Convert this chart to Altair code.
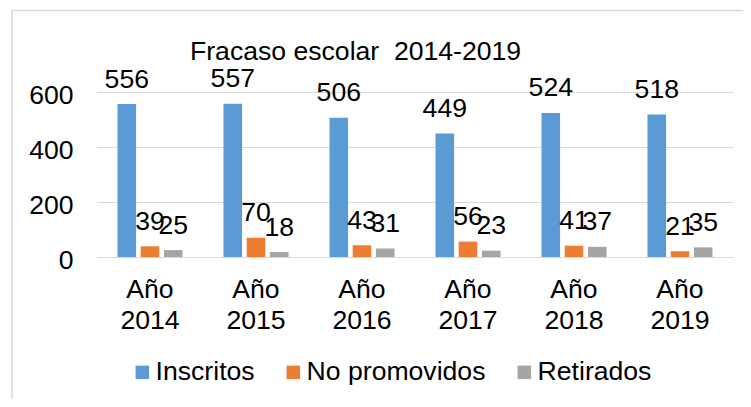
import altair as alt
import pandas as pd

years = ["2014", "2015", "2016", "2017", "2018", "2019"]
series = ["Inscritos", "No promovidos", "Retirados"]
inscritos = [556, 557, 506, 449, 524, 518]
no_promovidos = [39, 70, 43, 56, 41, 21]
retirados = [25, 18, 31, 23, 37, 35]
colors = ["#5B9BD5", "#ED7D31", "#A5A5A5"]
title_text = "Fracaso escolar\u00a0 2014-2019"
y_ticks = [0, 200, 400, 600]

rows = []
for i, yr in enumerate(years):
    for s, vals in zip(series, [inscritos, no_promovidos, retirados]):
        rows.append({"anio": f"Año {yr}", "serie": s, "valor": vals[i]})
df = pd.DataFrame(rows)
cats = [f"Año {yr}" for yr in years]

FONT = "Liberation Sans"
FS = 26.6
W, H = 636, 165

x_enc = alt.X(
    "anio:N", sort=cats,
    scale=alt.Scale(paddingInner=0.343, paddingOuter=0.1715),
    axis=alt.Axis(
        title=None, labelAngle=0, labelExpr="split(datum.label, ' ')",
        labelFont=FONT, labelFontSize=FS, labelColor="#000000",
        labelPadding=19, labelLineHeight=31, labelBaseline="top",
        ticks=False, domainColor="#D9D9D9", domainWidth=1,
    ),
)
xo_enc = alt.XOffset("serie:N", sort=series,
                     scale=alt.Scale(paddingInner=0.2, paddingOuter=0.1))
y_enc = alt.Y(
    "valor:Q",
    scale=alt.Scale(domain=[0, 600], nice=False, zero=True),
    axis=alt.Axis(
        title=None, values=y_ticks, labelFont=FONT, labelFontSize=FS,
        labelColor="#000000", labelPadding=24, labelOffset=3,
        ticks=False, domain=False, gridColor="#D9D9D9", gridWidth=1,
    ),
)

base = alt.Chart(df)

bars = base.mark_bar().encode(
    x=x_enc, xOffset=xo_enc, y=y_enc,
    color=alt.Color(
        "serie:N", sort=series,
        scale=alt.Scale(domain=series, range=colors),
        legend=alt.Legend(
            title=None, orient="none", direction="horizontal",
            legendX=32, legendY=267, padding=0,
            symbolType="square", symbolSize=182, symbolStrokeWidth=0,
            labelFont=FONT, labelFontSize=FS, labelColor="#000000",
            labelOffset=0, columnPadding=25, labelLimit=0,
        ),
    ),
)

labels = base.mark_text(
    font=FONT, fontSize=FS, color="#000000", baseline="alphabetic", dy=-16.5
).encode(x=x_enc, xOffset=xo_enc, y=y_enc, text="valor:Q")

title = alt.Chart(alt.Data(values=[{"t": title_text}])).mark_text(
    font=FONT, fontSize=FS, color="#000000", align="left", baseline="alphabetic"
).encode(x=alt.value(93), y=alt.value(-32), text="t:N")

border = alt.Chart(alt.Data(values=[{"a": 1}])).mark_rect(
    fillOpacity=0, stroke="#D9D9D9", strokeWidth=1.5
).encode(x=alt.value(-85), x2=alt.value(700), y=alt.value(-81.5), y2=alt.value(400))

chart = alt.layer(border, bars, labels, title).properties(
    width=W, height=H,
    autosize=alt.AutoSizeParams(type="none"),
    padding={"left": 89, "top": 84, "right": 10, "bottom": 142},
    background="white",
).configure_view(stroke=None)

chart.save("out.html", embed_options={"renderer": "svg", "actions": False})
